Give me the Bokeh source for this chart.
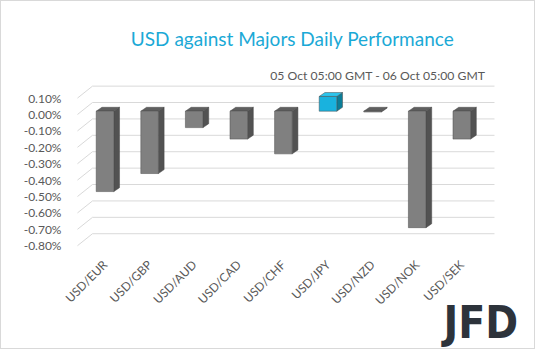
import math
from bokeh.plotting import figure
from bokeh.models import Range1d, FixedTicker, PrintfTickFormatter, Label, ColumnDataSource
from bokeh.embed import file_html
from bokeh.resources import INLINE

# ---- data ----
pairs = ["USD/EUR", "USD/GBP", "USD/AUD", "USD/CAD", "USD/CHF",
         "USD/JPY", "USD/NZD", "USD/NOK", "USD/SEK"]
changes = [-0.49, -0.38, -0.10, -0.17, -0.26, 0.09, -0.005, -0.71, -0.17]  # percent
y_ticks = [0.1, 0.0, -0.1, -0.2, -0.3, -0.4, -0.5, -0.6, -0.7, -0.8]
title_text = "USD against Majors Daily Performance"
subtitle_text = "05 Oct 05:00 GMT -  06 Oct  05:00 GMT"

# ---- pseudo-3D styling constants (data-space offsets) ----
X_LEFT, X_RIGHT = -2.321, 9.675
Y_BOTTOM, Y_TOP = -1.439, 0.689
AXIS_X, AXIS_Y = -0.617, -0.829
GRID_RIGHT = 8.733
WALL_DX, WALL_DY = 0.336, 0.073
BAR_DY = 0.02
BAR_W = 0.395
DEPTH_DX, DEPTH_DY = 0.128, 0.024

p = figure(width=535, height=349, output_backend="svg", toolbar_location=None,
           x_range=Range1d(X_LEFT, X_RIGHT), y_range=Range1d(Y_BOTTOM, Y_TOP),
           min_border=0)
p.styles = {"border": "1px solid #d9d9d9"}
p.outline_line_color = None
p.background_fill_color = "white"
p.border_fill_color = "white"
p.xgrid.visible = False
p.ygrid.visible = False

# y axis, pinned inside the frame
p.yaxis.fixed_location = AXIS_X
p.yaxis.ticker = FixedTicker(ticks=y_ticks)
p.yaxis.formatter = PrintfTickFormatter(format="%.2f%%")
p.yaxis.axis_line_color = None
p.yaxis.major_tick_line_color = None
p.yaxis.minor_tick_line_color = None
p.yaxis.major_label_standoff = 10
p.yaxis.major_label_text_font = "Lato"
p.yaxis.major_label_text_font_size = "12px"
p.yaxis.major_label_text_color = "#595959"

# x axis, pinned inside the frame
p.xaxis.fixed_location = AXIS_Y
p.xaxis.ticker = FixedTicker(ticks=list(range(len(pairs))))
p.xaxis.major_label_overrides = {i: s for i, s in enumerate(pairs)}
p.xaxis.major_label_orientation = math.pi / 4
p.xaxis.axis_line_color = None
p.xaxis.major_tick_line_color = None
p.xaxis.minor_tick_line_color = None
p.xaxis.major_label_standoff = 6
p.xaxis.major_label_text_font = "Lato"
p.xaxis.major_label_text_font_size = "12px"
p.xaxis.major_label_text_color = "#595959"

# back-wall gridlines and diagonal floor lines
gx0 = [AXIS_X + WALL_DX] * len(y_ticks)
gx1 = [GRID_RIGHT] * len(y_ticks)
gy = [v + WALL_DY for v in y_ticks]
p.segment(x0=gx0, y0=gy, x1=gx1, y1=gy, line_color="#d9d9d9", line_width=1)
p.segment(x0=[AXIS_X] * len(y_ticks), y0=y_ticks, x1=gx0, y1=gy,
          line_color="#d9d9d9", line_width=1)

# bars (side, top, front faces)
xs, ys, fills = [], [], []
for i, v in enumerate(changes):
    lo = min(0.0, v) + BAR_DY
    hi = max(0.0, v) + BAR_DY
    l, r = i - BAR_W / 2, i + BAR_W / 2
    hl = i == 5
    front_c = "#19b2de" if hl else "#808080"
    side_c = "#0b7d98" if hl else "#525252"
    top_c = "#2cc4ec" if hl else "#5f5f5f"
    xs.append([r, r + DEPTH_DX, r + DEPTH_DX, r])
    ys.append([lo, lo + DEPTH_DY, hi + DEPTH_DY, hi])
    fills.append(side_c)
    xs.append([l, l + DEPTH_DX, r + DEPTH_DX, r])
    ys.append([hi, hi + DEPTH_DY, hi + DEPTH_DY, hi])
    fills.append(top_c)
    xs.append([l, r, r, l])
    ys.append([lo, lo, hi, hi])
    fills.append(front_c)

src = ColumnDataSource(dict(xs=xs, ys=ys, fill=fills))
p.patches("xs", "ys", source=src, fill_color="fill", line_color="#4a4a4a", line_width=0.5)

# texts
p.add_layout(Label(x=291, y=312, x_units="screen", y_units="screen", text=title_text,
                   text_align="center", text_baseline="alphabetic", text_font="Lato",
                   text_font_size="19px", text_color="#1BA9D6"))
p.add_layout(Label(x=490, y=275, x_units="screen", y_units="screen", text=subtitle_text,
                   text_align="right", text_baseline="alphabetic", text_font="Lato",
                   text_font_size="12.2px", text_color="#595959"))
p.add_layout(Label(x=442, y=28, x_units="screen", y_units="screen", text="JFD",
                   text_align="left", text_baseline="alphabetic", text_font="DejaVu Sans Condensed",
                   text_font_style="bold", text_font_size="44px", text_color="#2d333b"))

open("out.html", "w").write(file_html(p, INLINE))
